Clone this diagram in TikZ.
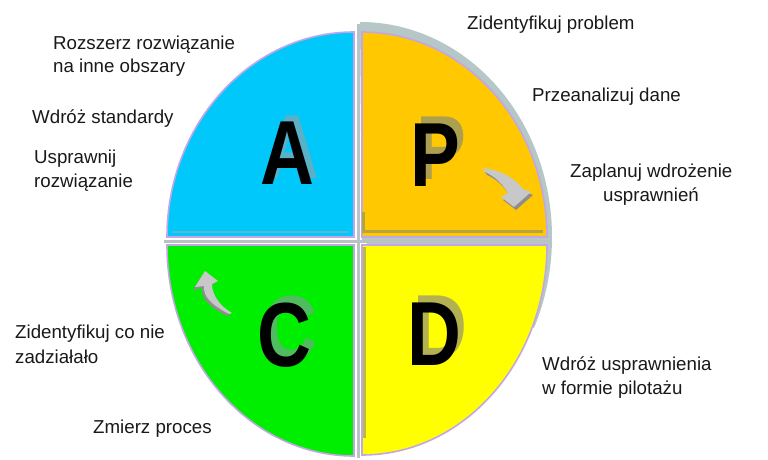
\documentclass[tikz,border=0pt]{standalone}
\usepackage{fontspec}
\usepackage{graphicx}
\setmainfont{Liberation Sans}
\definecolor{cyanA}{HTML}{00C8FA}
\definecolor{orangeP}{HTML}{FFC800}
\definecolor{greenC}{HTML}{00EE00}
\definecolor{yellowD}{HTML}{FFFF00}
\definecolor{lav}{HTML}{C4A6E6}
\definecolor{ringgrey}{HTML}{B5C7C6}
\definecolor{divgrey}{HTML}{B8C4C4}
\definecolor{shA}{HTML}{5AB0C6}
\definecolor{shP}{HTML}{ACA050}
\definecolor{shC}{HTML}{50BC60}
\definecolor{shD}{HTML}{B4B250}
\definecolor{oliveline}{HTML}{B4A444}
\definecolor{oliveD}{HTML}{BABA48}
\definecolor{cyanline}{HTML}{5AB6D4}
\definecolor{arrface}{HTML}{C8C8C8}
\definecolor{arrshade}{HTML}{8E8E8E}
\begin{document}
\begin{tikzpicture}[x=1pt,y=-1pt,
  lbl/.style={anchor=base west, inner sep=0, font=\fontsize{18.7}{22}\selectfont, text=black!90},
  big/.style={inner sep=0, font=\fontsize{91}{91}\selectfont\bfseries},
  quad/.style={draw=lav, line width=1.6pt},
  arrow face/.style={fill=arrface},
  arrow shade/.style={fill=arrshade},
]
\useasboundingbox (0,0) rectangle (768,460);
\fill[white] (0,0) rectangle (768,460);

% grey ring behind the P quarter
\fill[ringgrey] (360,22) arc[start angle=270,end angle=385,x radius=192,y radius=215] -- (362,241) -- cycle;

% divider cross
\draw[divgrey, line width=3pt] (358,24) -- (358,458);
\draw[divgrey, line width=3pt] (164,241) -- (551,241);

% quarters
\path[quad, fill=cyanA] (354,237) -- (167,237) arc[start angle=180,end angle=270,x radius=187,y radius=205] -- cycle;
\path[quad, fill=orangeP] (362,237) -- (362,32) arc[start angle=270,end angle=360,x radius=185,y radius=205] -- cycle;
\path[quad, fill=greenC] (354,245) -- (354,456) arc[start angle=90,end angle=180,x radius=187,y radius=211] -- cycle;
\path[quad, fill=yellowD] (362,245) -- (547,245) arc[start angle=0,end angle=90,x radius=185,y radius=210] -- cycle;

% inner shadow lines
\draw[cyanline, line width=2.5pt] (172,232) -- (349,232);
\draw[oliveline, line width=3pt] (365,231) -- (543,231);
\draw[oliveline, line width=2.5pt] (363.5,212) -- (363.5,233);
\draw[oliveD, line width=2.5pt] (364.5,247) -- (364.5,438);

% letters with shadows
\node[big, text=shA] (Ash) at (292,147) {\scalebox{0.82}[1]{A}};
\node[big] (A) at (287,153) {\scalebox{0.82}[1]{A}};
\node[big, text=shP] (Psh) at (441,148) {\scalebox{0.82}[1]{P}};
\node[big] (P) at (435,155) {\scalebox{0.82}[1]{P}};
\node[big, text=shC] (Csh) at (290,328) {\scalebox{0.82}[1]{C}};
\node[big] (C) at (284,335) {\scalebox{0.82}[1]{C}};
\node[big, text=shD] (Dsh) at (440,327) {\scalebox{0.82}[1]{D}};
\node[big] (D) at (434,334) {\scalebox{0.82}[1]{D}};

% curved arrow in P (clockwise)
\path[arrow shade] (485,172) .. controls (502,173) and (517,181) .. (525,192) -- (533,195) -- (516,210) -- (503,200) -- (510,196) .. controls (504,186) and (496,179) .. (487,175) -- cycle;
\path[arrow face] (483,168) .. controls (500,170) and (515,178) .. (523,189) -- (531,192) -- (514,207) -- (501,197) -- (508,193) .. controls (502,183) and (494,176) .. (485,172) -- cycle;

% curved arrow in C
\path[arrow shade] (227,316) .. controls (210,307) and (201,299) .. (202,288) -- (193,290) -- (203,274) -- (215,284) -- (210,286) .. controls (210,297) and (218,308) .. (230,315) -- cycle;
\path[arrow face] (229,314) .. controls (212,305) and (203,297) .. (204,286) -- (195,287) -- (205,271) -- (218,281) -- (212,284) .. controls (212,295) and (220,306) .. (232,313) -- cycle;

% labels
\node[lbl] (l1) at (53,49) {Rozszerz rozwiązanie};
\node[lbl] (l2) at (53,73) {na inne obszary};
\node[lbl] (l3) at (32,123) {Wdróż standardy};
\node[lbl] (l4) at (34,163) {Usprawnij};
\node[lbl] (l5) at (34,187) {rozwiązanie};
\node[lbl] (r1) at (467,30) {Zidentyfikuj problem};
\node[lbl] (r2) at (532,101) {Przeanalizuj dane};
\node[lbl] (r3) at (570,177) {Zaplanuj wdrożenie};
\node[lbl] (r4) at (603,201) {usprawnień};
\node[lbl] (c1) at (15,338) {Zidentyfikuj co nie};
\node[lbl] (c2) at (15,363) {zadziałało};
\node[lbl] (c3) at (93,433) {Zmierz proces};
\node[lbl] (d1) at (542,370) {Wdróż usprawnienia};
\node[lbl] (d2) at (542,394) {w formie pilotażu};
\end{tikzpicture}
\end{document}
